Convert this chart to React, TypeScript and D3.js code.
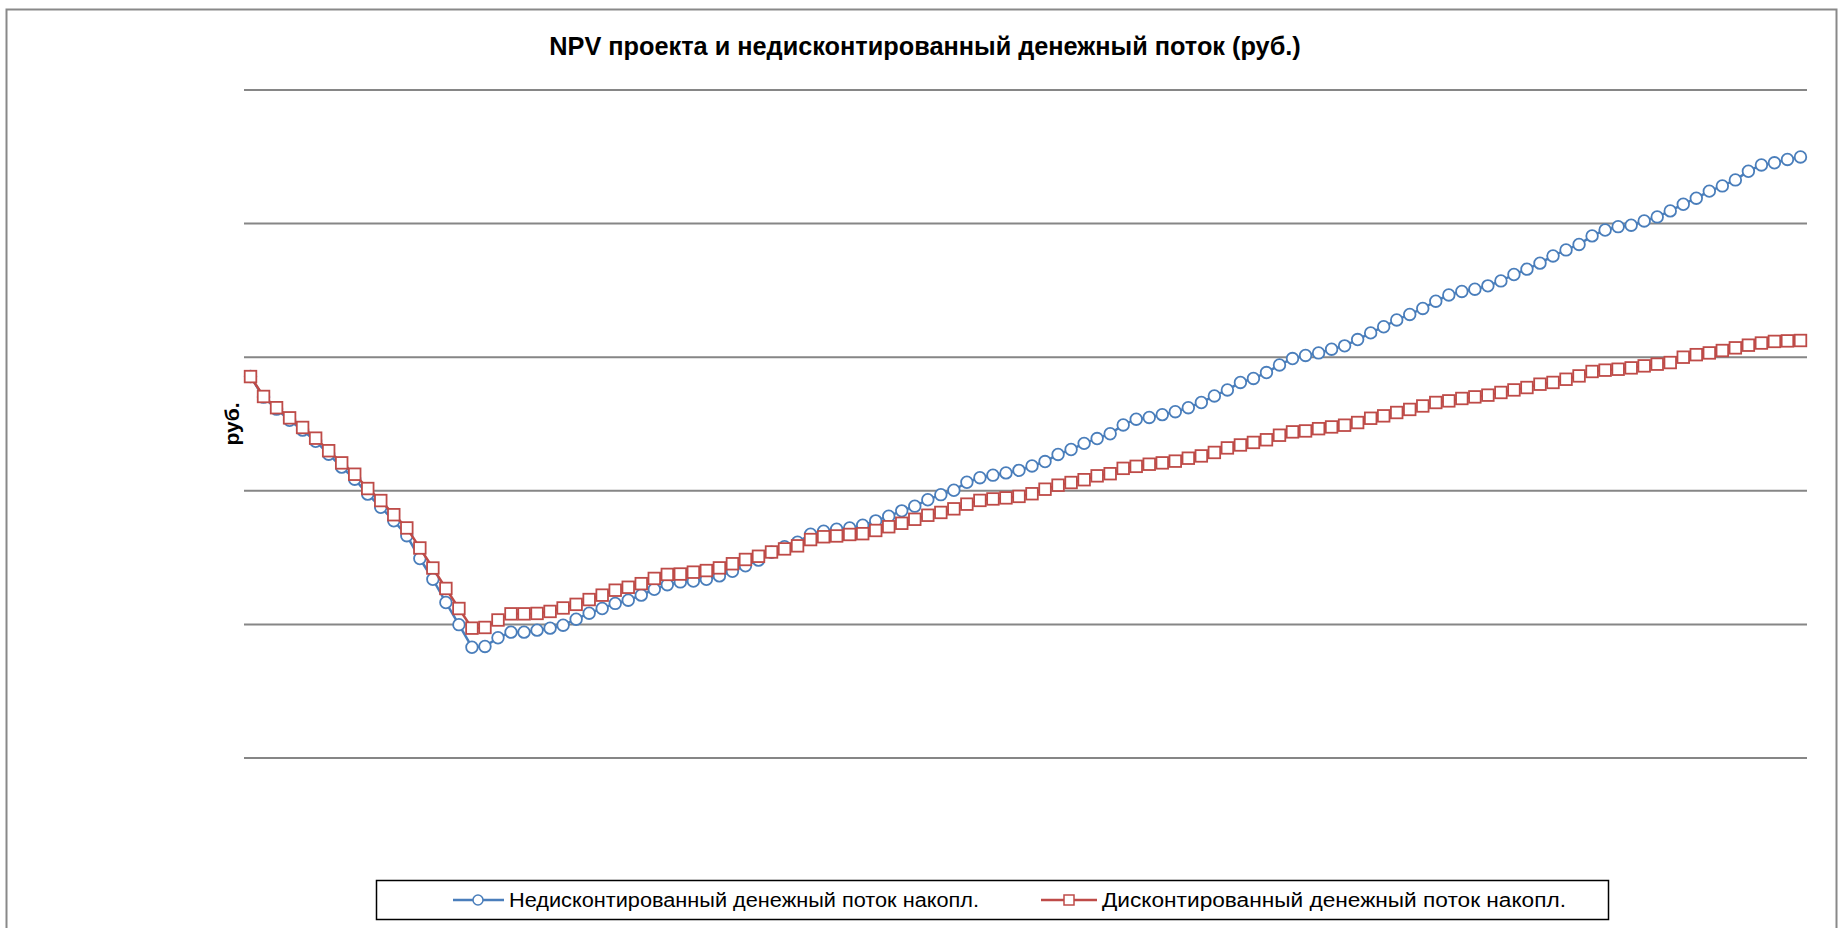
import * as d3 from "d3"
import React from "react"

// months of the project horizon
const months = d3.range(1, 121)

// cumulative cash flow, thousand rub.
const undiscounted = [
  -145, -299, -389, -472, -546, -629, -726, -823, -913, -1025,
  -1123, -1224, -1336, -1507, -1662, -1836, -2002, -2171, -2165, -2100,
  -2058, -2058, -2043, -2028, -2006, -1961, -1916, -1881, -1843, -1819,
  -1781, -1737, -1703, -1682, -1675, -1662, -1637, -1602, -1561, -1519,
  -1460, -1418, -1385, -1325, -1302, -1287, -1278, -1257, -1225, -1190,
  -1150, -1115, -1067, -1029, -996, -936, -902, -883, -866, -847,
  -814, -781, -728, -691, -645, -609, -573, -507, -464, -451,
  -430, -408, -378, -339, -290, -245, -189, -159, -115, -58,
  -10, 13, 32, 60, 85, 132, 182, 228, 279, 320,
  365, 419, 466, 492, 509, 534, 571, 619, 659, 704,
  758, 803, 844, 908, 952, 977, 988, 1020, 1050, 1095,
  1145, 1190, 1243, 1282, 1327, 1392, 1439, 1455, 1480, 1499,
]

const discounted = [
  -145, -294, -378, -454, -526, -606, -700, -791, -876, -983,
  -1073, -1179, -1278, -1428, -1578, -1731, -1881, -2028, -2023, -1967,
  -1921, -1921, -1918, -1903, -1877, -1850, -1814, -1781, -1744, -1722,
  -1695, -1656, -1626, -1623, -1609, -1597, -1577, -1546, -1514, -1490,
  -1458, -1435, -1412, -1365, -1344, -1338, -1327, -1321, -1297, -1269,
  -1243, -1213, -1183, -1162, -1135, -1100, -1072, -1061, -1053, -1042,
  -1022, -988, -958, -938, -917, -888, -872, -832, -817, -801,
  -791, -778, -756, -739, -713, -679, -657, -638, -618, -584,
  -559, -552, -535, -522, -509, -489, -457, -439, -414, -391,
  -365, -339, -327, -309, -297, -284, -264, -245, -227, -202,
  -189, -165, -140, -107, -97, -90, -80, -65, -52, -40,
  0, 19, 32, 50, 70, 90, 106, 118, 122, 125,
]

const yTicks = [-3000, -2000, -1000, 0, 1000, 2000]

const seriesNames = [
  "Недисконтированный денежный поток накопл.",
  "Дисконтированный денежный поток накопл.",
]

const W = 1839
const H = 928
const font = "'Liberation Sans', Arial, sans-serif"
const blue = "#4a7ebb"
const red = "#be4b48"

export default function App() {
  const x = d3.scaleBand<number>()
    .domain(months)
    .range([244, 1807])
    .padding(0)

  const y = d3.scaleLinear()
    .domain([-3000, 2000])
    .range([758, 90])

  const cx = (m: number) => (x(m) as number) + x.bandwidth() / 2

  const line = d3.line<number>()
    .x((d, i) => cx(months[i]))
    .y(d => y(d))

  return (
    <svg width={W} height={H} style={{ position: "fixed", left: 0, top: 0, background: "#fff" }}>
      <rect x={6.5} y={9.5} width={1830} height={940} fill="#fff" stroke="#898989" strokeWidth={2} />

      <text x={925} y={55} textAnchor="middle" fontFamily={font} fontWeight="bold" fontSize={25.3}>
        NPV проекта и недисконтированный денежный поток (руб.)
      </text>

      {yTicks.map(t => (
        <line key={t} x1={244} x2={1807} y1={y(t)} y2={y(t)} stroke="#868686" strokeWidth={2} />
      ))}

      <text transform="translate(239,424) rotate(-90)" textAnchor="middle"
        fontFamily={font} fontWeight="bold" fontSize={21}>руб.</text>

      {/* series 1: circles */}
      <path d={line(undiscounted) || ""} fill="none" stroke={blue} strokeWidth={2.5} strokeLinejoin="round" />
      {undiscounted.map((v, i) => (
        <circle key={"b" + i} cx={cx(months[i])} cy={y(v)} r={5.8} fill="#fff" stroke={blue} strokeWidth={1.8} />
      ))}

      {/* series 2: squares */}
      <path d={line(discounted) || ""} fill="none" stroke={red} strokeWidth={2.5} strokeLinejoin="round" />
      {discounted.map((v, i) => (
        <rect key={"r" + i} x={cx(months[i]) - 5.8} y={y(v) - 5.8} width={11.6} height={11.6}
          fill="#fff" stroke={red} strokeWidth={1.8} />
      ))}

      {/* legend */}
      <rect x={376.5} y={880.5} width={1232} height={39} fill="#fff" stroke="#000" strokeWidth={1.5} />
      <line x1={453} x2={504} y1={900} y2={900} stroke={blue} strokeWidth={2.5} />
      <circle cx={478} cy={900} r={5} fill="#fff" stroke={blue} strokeWidth={1.5} />
      <text x={509} y={907} fontFamily={font} fontSize={20} textLength={470} lengthAdjust="spacingAndGlyphs">
        {seriesNames[0]}
      </text>
      <line x1={1041} x2={1097} y1={900} y2={900} stroke={red} strokeWidth={2.5} />
      <rect x={1064} y={895} width={10} height={10} fill="#fff" stroke={red} strokeWidth={1.5} />
      <text x={1102} y={907} fontFamily={font} fontSize={20} textLength={464} lengthAdjust="spacingAndGlyphs">
        {seriesNames[1]}
      </text>
    </svg>
  )
}
